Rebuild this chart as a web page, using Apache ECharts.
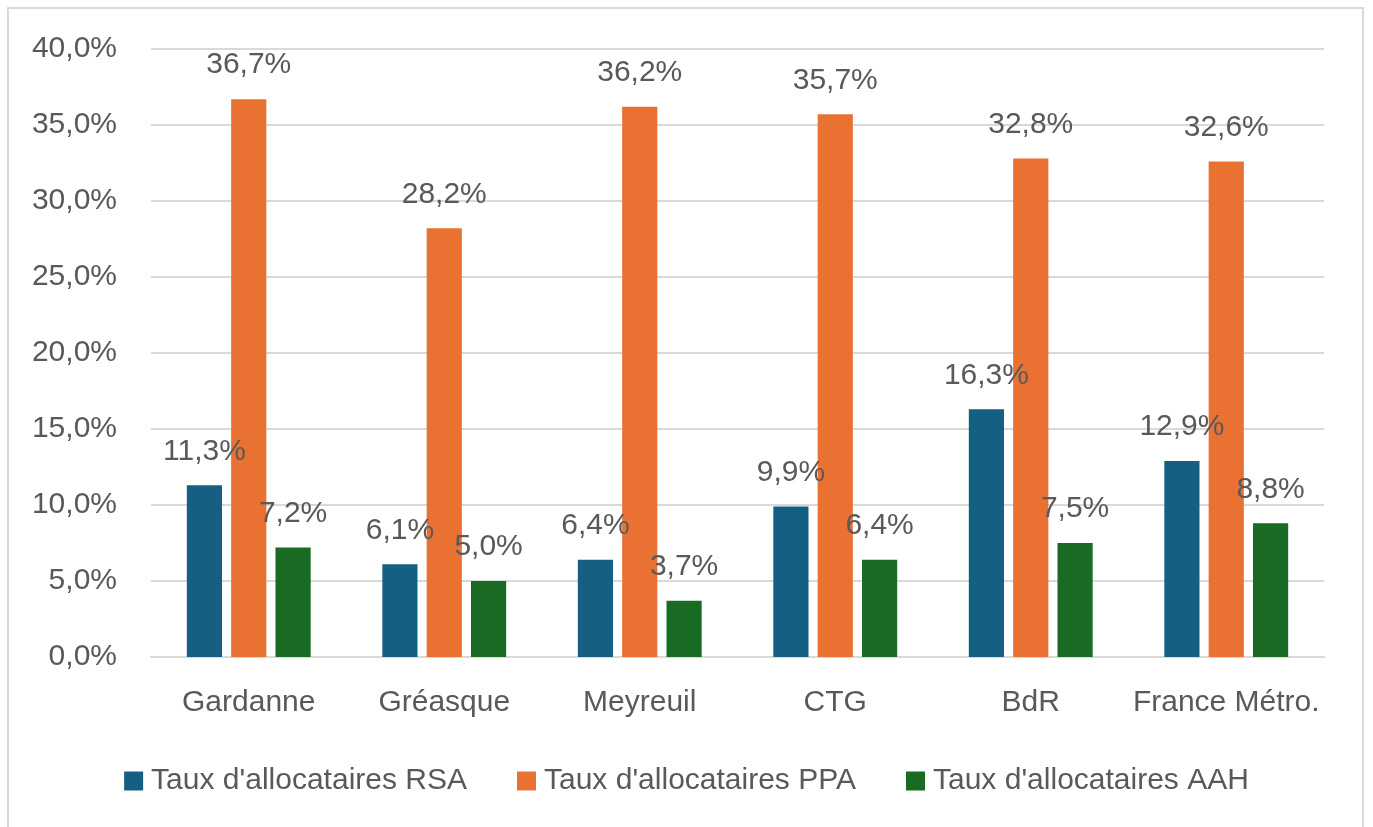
<!DOCTYPE html>
<html>
<head>
<meta charset="utf-8">
<script src="https://cdn.jsdelivr.net/npm/echarts@6/dist/echarts.min.js"></script>
<style>
html,body{margin:0;padding:0;background:#fff;}
#frame{position:absolute;left:7px;top:7px;width:1357px;height:840px;border:2px solid #d9d9d9;box-sizing:border-box;}
#chart{position:absolute;left:0;top:0;width:1373px;height:827px;}
</style>
</head>
<body>
<div id="frame"></div>
<div id="chart"></div>
<script>
const categories = ['Gardanne', 'Gréasque', 'Meyreuil', 'CTG', 'BdR', 'France Métro.'];
const seriesNames = ["Taux d'allocataires RSA", "Taux d'allocataires PPA", "Taux d'allocataires AAH"];
const rsaValues = [11.3, 6.1, 6.4, 9.9, 16.3, 12.9];
const ppaValues = [36.7, 28.2, 36.2, 35.7, 32.8, 32.6];
const aahValues = [7.2, 5.0, 3.7, 6.4, 7.5, 8.8];
const yTicks = { min: 0, max: 40, interval: 5 };
const colors = ['#156082', '#E97132', '#196B24'];

const FONT = '"Liberation Sans", Arial, sans-serif';
const TXT = '#595959';
const FS = 30;
const fmt = v => v.toFixed(1).replace('.', ',') + '%';

function mk(name, data, color) {
  return {
    name: name,
    type: 'bar',
    data: data,
    barWidth: '18%',
    barGap: '26%',
    itemStyle: { color: color },
    label: {
      show: true,
      position: 'top',
      distance: 19,
      color: TXT,
      fontFamily: FONT,
      fontSize: FS,
      formatter: p => fmt(p.value)
    },
    z: 2
  };
}

const chart = echarts.init(document.getElementById('chart'), null, { renderer: 'canvas' });
chart.setOption({
  backgroundColor: 'transparent',
  animation: false,
  color: colors,
  grid: { left: 151, right: 49, top: 49, bottom: 170, containLabel: false },
  legend: {
    data: seriesNames,
    left: 'center',
    top: 761,
    icon: 'rect',
    itemWidth: 19,
    itemHeight: 19,
    itemGap: 50,
    textStyle: { color: TXT, fontFamily: FONT, fontSize: FS, padding: [0, 0, 0, 3] }
  },
  xAxis: {
    type: 'category',
    data: categories,
    axisLine: { show: true, lineStyle: { color: '#d9d9d9', width: 2 } },
    axisTick: { show: false },
    axisLabel: { color: TXT, fontFamily: FONT, fontSize: FS, margin: 31, interval: 0 }
  },
  yAxis: {
    type: 'value',
    min: yTicks.min,
    max: yTicks.max,
    interval: yTicks.interval,
    axisLine: { show: false },
    axisTick: { show: false },
    splitLine: { lineStyle: { color: '#d9d9d9', width: 2 } },
    axisLabel: { color: TXT, fontFamily: FONT, fontSize: FS, margin: 34, formatter: v => fmt(v) }
  },
  series: [
    mk(seriesNames[0], rsaValues, colors[0]),
    mk(seriesNames[1], ppaValues, colors[1]),
    mk(seriesNames[2], aahValues, colors[2])
  ]
});
</script>
</body>
</html>
